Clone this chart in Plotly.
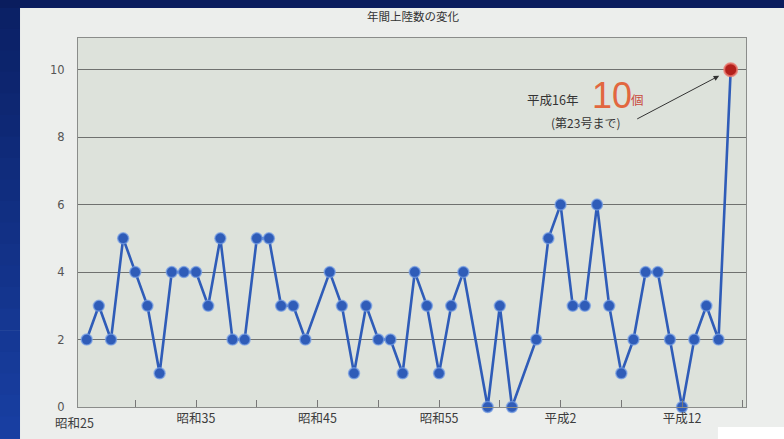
import plotly.graph_objects as go

# Annual number of typhoon landfalls in Japan
years = [1951, 1952, 1953, 1954, 1955, 1956, 1957, 1958, 1959, 1960,
         1961, 1962, 1963, 1964, 1965, 1966, 1967, 1968, 1969,
         1971, 1972, 1973, 1974, 1975, 1976, 1977, 1978, 1979, 1980,
         1981, 1982, 1984, 1985, 1986, 1988, 1989, 1990,
         1991, 1992, 1993, 1994, 1995, 1996, 1997, 1998, 1999, 2000,
         2001, 2002, 2003, 2004]
landfalls = [2, 3, 2, 5, 4, 3, 1, 4, 4, 4,
             3, 5, 2, 2, 5, 5, 3, 3, 2,
             4, 3, 1, 3, 2, 2, 1, 4, 3, 1,
             3, 4, 0, 3, 0, 2, 5, 6,
             3, 3, 6, 3, 1, 2, 4, 4, 2, 0,
             2, 3, 2, 10]

x_label_years = [1950, 1960, 1970, 1980, 1990, 2000]
x_labels = ["昭和25", "昭和35", "昭和45", "昭和55", "平成2", "平成12"]
x_tick_years = list(range(1955, 2006, 5))
y_ticks = [0, 2, 4, 6, 8, 10]

highlight_year = years[-1]
highlight_value = landfalls[-1]

FONT = "Noto Sans CJK JP"
BLUE = "#2f5cb8"
X0, X1 = 1950.284, 2005.26

fig = go.Figure()

fig.add_trace(go.Scatter(
    x=years, y=landfalls, mode="lines+markers",
    line=dict(color=BLUE, width=2.6),
    marker=dict(size=11, color=BLUE, line=dict(color="rgba(120,160,230,0.7)", width=1.5)),
    cliponaxis=False, hoverinfo="x+y", showlegend=False,
))
fig.add_trace(go.Scatter(
    x=[highlight_year], y=[highlight_value], mode="markers",
    marker=dict(size=13, color="#b3201c", line=dict(color="rgba(235,120,110,0.8)", width=2)),
    cliponaxis=False, showlegend=False,
))

# tick labels for the x axis; the first one sits just left of the plot area
x_ticktext = []
for yv in x_tick_years:
    x_ticktext.append(x_labels[x_label_years.index(yv)] if yv in x_label_years else "")

annotations = []
for yv, lab in zip(x_label_years, x_labels):
    if yv < x_tick_years[0]:
        annotations.append(dict(x=(yv - X0) / (X1 - X0), y=0, xref="paper", yref="paper",
                                text=lab, showarrow=False, xanchor="center", yanchor="top",
                                yshift=-4,
                                font=dict(family=FONT, size=12.5, color="#3c3c3c")))


def note(x, y, text, font):
    return dict(x=x, y=y, xref="paper", yref="paper", text=text, showarrow=False,
                xanchor="center", yanchor="middle", font=font)


annotations += [
    dict(x=highlight_year, y=highlight_value, xref="x", yref="y", text="",
         showarrow=True, arrowhead=2, arrowsize=1.1, arrowwidth=1, arrowcolor="#333333",
         ax=-95, ay=50, standoff=13),
    note(0.711, 0.833, "平成16年", dict(family=FONT, size=12.5, color="#333333")),
    note(0.799, 0.845, "10", dict(family="Liberation Sans", size=36, color="#e2673f")),
    note(0.837, 0.833, "個", dict(family=FONT, size=12.5, color="#c9483a")),
    note(0.759, 0.772, "(第23号まで)", dict(family=FONT, size=12, color="#333333")),
    note(0.502, 1.06, "年間上陸数の変化", dict(family=FONT, size=11.5, color="#333333")),
]

# dark blue frame around the card, shaded from navy to royal blue
shapes = []
n_bands = 24
for i in range(n_bands):
    t = i / (n_bands - 1)
    r = int(10 + t * (26 - 10))
    g = int(30 + t * (66 - 30))
    b = int(96 + t * (168 - 96))
    y1 = 1.2 - i * (1.4 / n_bands)
    y0 = 1.2 - (i + 1) * (1.4 / n_bands) - 0.002
    shapes.append(dict(type="rect", xref="paper", yref="paper", x0=-0.2, x1=-0.0868,
                       y0=y0, y1=y1, fillcolor=f"rgb({r},{g},{b})", line=dict(width=0),
                       layer="below"))
shapes.append(dict(type="rect", xref="paper", yref="paper", x0=-0.2, x1=1.2,
                   y0=1.0813, y1=1.2, fillcolor="#0a1d5e", line=dict(width=0), layer="below"))
shapes.append(dict(type="rect", xref="paper", yref="paper", x0=0.958, x1=1.2,
                   y0=-0.2, y1=-0.054, fillcolor="#ffffff", line=dict(width=0), layer="below"))

fig.update_layout(
    width=784, height=439,
    margin=dict(l=78, r=38, t=38, b=32),
    paper_bgcolor="#eceeec",
    plot_bgcolor="#dde2db",
    font=dict(family=FONT, color="#444444"),
    xaxis=dict(range=[X0, X1], tickmode="array", tickvals=x_tick_years,
               ticktext=x_ticktext, ticks="inside", ticklen=7, tickcolor="#777777",
               showgrid=False, zeroline=False, showline=True, linecolor="#8a8c8a",
               linewidth=1.2, mirror=True,
               tickfont=dict(family=FONT, size=12.5, color="#3c3c3c")),
    yaxis=dict(range=[0, 10.94], tickmode="array", tickvals=y_ticks,
               showgrid=True, gridcolor="#6f716f", gridwidth=1.3, zeroline=False,
               showline=True, linecolor="#8a8c8a", linewidth=1.2, mirror=True,
               ticks="", ticklabelstandoff=10,
               tickfont=dict(family="DejaVu Sans", size=11.5, color="#555555")),
    annotations=annotations,
    shapes=shapes,
    hovermode="closest",
)

fig.write_html("out.html")
